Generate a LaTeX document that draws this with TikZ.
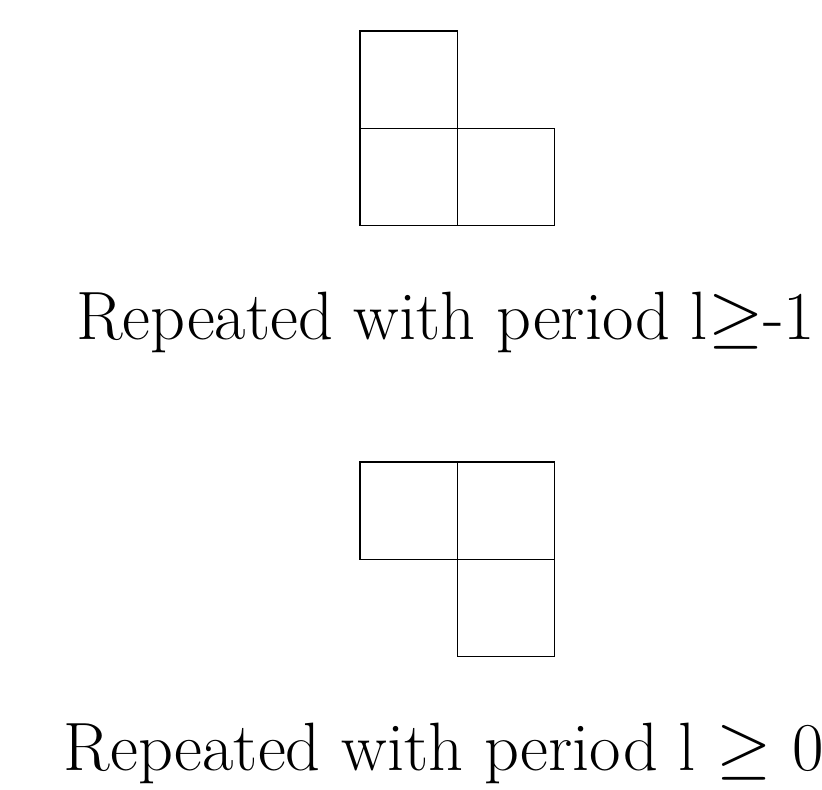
\documentclass[tikz,border=0pt]{standalone}
\usepackage{tikz}
\usetikzlibrary{positioning}
\usepackage{amsmath,amssymb}

\begin{document}
\begin{tikzpicture}[scale=1.0]
      % Page frame (keeps the margins of the figure)
      \useasboundingbox (0,0) rectangle (8.448,8.119);

      % Upper tile: one cell on top of the left cell of a row of two
      \draw[thin] (3.70, 6.80) rectangle (4.70, 7.80);
      \draw[thin] (3.70, 5.80) rectangle (4.70, 6.80);
      \draw[thin] (4.70, 5.80) rectangle (5.70, 6.80);

      % Caption of the upper tile
      \node[anchor=base, font=\fontsize{20}{24}\selectfont] (capA) at (4.58, 4.63)
        {Repeated with period l$\geq$-1};

      % Lower tile: a row of two with one cell under the right cell
      \draw[thin] (3.70, 2.37) rectangle (4.70, 3.37);
      \draw[thin] (4.70, 2.37) rectangle (5.70, 3.37);
      \draw[thin] (4.70, 1.37) rectangle (5.70, 2.37);

      % Caption of the lower tile
      \node[anchor=base, font=\fontsize{20}{24}\selectfont] (capB) at (4.56, 0.20)
        {Repeated with period l $\geq$ 0};
    \end{tikzpicture}
\end{document}
